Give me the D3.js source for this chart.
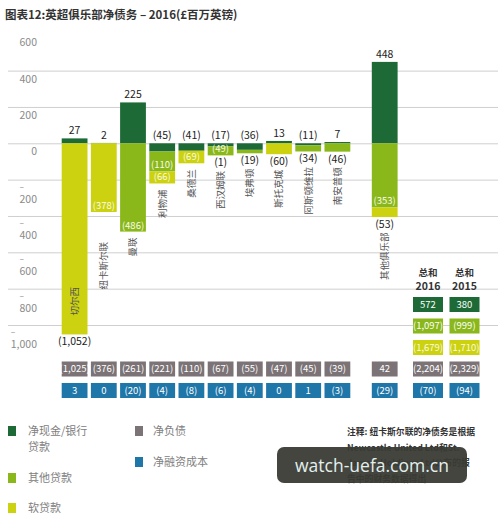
<!DOCTYPE html>
<html><head><meta charset="utf-8">
<script src="https://cdn.jsdelivr.net/npm/d3@7"></script>
<style>
html,body{margin:0;padding:0;background:#fff;}
svg{display:block;font-family:'Noto Sans CJK SC','Noto Sans',sans-serif;}
</style></head>
<body><svg id="c" width="503" height="519"></svg>
<script>
// ---- data ----
const clubs = ["切尔西","纽卡斯尔联","曼联","利物浦","桑德兰","西汉姆联","埃弗顿","斯托克城","阿斯顿维拉","南安普顿","其他俱乐部"];
const netCash      = [27, 2, 225, -45, -41, -17, -36, 13, -11, 7, 448];
const otherLoans   = [0, 0, -486, -110, 0, -49, -19, 0, -34, -46, -353];
const softLoans    = [-1052, -378, 0, -66, -69, -1, 0, -60, 0, 0, -53];
const netDebt      = [-1025, -376, -261, -221, -110, -67, -55, -47, -45, -39, 42];
const financeCost  = [3, 0, -20, -4, -8, -6, -4, 0, 1, -3, -29];
const totalYears   = ["2016", "2015"];
const totalCash    = [572, 380];
const totalOther   = [-1097, -999];
const totalSoft    = [-1679, -1710];
const totalNetDebt = [-2204, -2329];
const totalFinance = [-70, -94];
const yLabelTicks  = [600, 400, 200, 0, -200, -400, -600, -800, -1000];
const gridTicks    = [400, 200, 0, -200, -400, -600, -800, -1000];
const legendItems  = [["净现金/银行","贷款"],["其他贷款"],["软贷款"],["净负债"],["净融资成本"]];
const title = "图表12:英超俱乐部净债务 – 2016(£百万英镑)";
const noteLines = ["注释: 纽卡斯尔联的净债务是根据","Newcastle United Ltd和St.","James' Holdings Ltd公布的报","告中的财务数据得出"];

// ---- styles ----
const C = {cash:"#1d6a36", other:"#8ab81b", soft:"#ccd20f", net:"#7b7376", fin:"#1f76a8"};
const svg = d3.select("#c");
const fmt = v => v < 0 ? "(" + d3.format(",")(-v) + ")" : d3.format(",")(v);

// ---- scales ----
const y = d3.scaleLinear().domain([0, -1000]).range([143.3, 325]);
const slot = d3.scaleLinear().domain([0, 1]).range([61.7, 90.9]);
const bw = 25.8;
const xLeft = i => slot(i < 10 ? i : i + 0.62);
const tx = d3.scaleBand().domain(totalYears).range([413, 479.5]).paddingInner(0.178);
const rows = d3.scaleBand().domain(["cash","other","soft","net","fin"]).range([297, 398]).paddingInner(0.302);

// title
svg.append("text").attr("x", 5).attr("y", 19).attr("font-size", 11.5).attr("font-weight", 700)
  .attr("fill", "#333").text(title);

// gridlines via axis
const grid = svg.append("g").attr("transform", "translate(8,0)")
  .call(d3.axisRight(y).tickValues(gridTicks).tickSize(490).tickFormat(""));
grid.select(".domain").remove();
grid.selectAll("line").attr("stroke", "#cfcfcf");

// y labels
yLabelTicks.forEach(v => {
  const t = svg.append("text").attr("x", 37).attr("text-anchor", "end")
    .attr("font-size", 10.5).attr("fill", "#8a8a8a")
    .attr("y", y(v) + (v < 0 ? 23 : 12)).text(d3.format(",")(Math.abs(v)));
  if (v < 0) {
    const w = t.node().getComputedTextLength();
    svg.append("text").attr("x", 37 - w).attr("y", y(v) + 10).attr("font-size", 8.5)
      .attr("fill", "#8a8a8a").text("–");
  }
});

// bars
const barG = svg.append("g");
clubs.forEach((club, i) => {
  const x0 = xLeft(i), cx = x0 + bw / 2;
  const c = netCash[i], o = otherLoans[i], s = softLoans[i];
  const segs = [];
  let base = 0;
  segs.push({k:"cash", a:0, b:c, v:c});
  if (c < 0) base = c;
  if (o < 0) { segs.push({k:"other", a:base, b:base + o, v:o}); base += o; }
  if (s < 0) { segs.push({k:"soft", a:base, b:base + s, v:s}); base += s; }
  segs.forEach(sg => {
    barG.append("rect").attr("x", x0).attr("width", bw)
      .attr("y", y(Math.max(sg.a, sg.b))).attr("height", Math.abs(y(sg.a) - y(sg.b)))
      .attr("fill", C[sg.k]);
  });
  // cash label
  const lblY = c >= 0 ? y(c) - 4 : y(0) - 4;
  barG.append("text").attr("x", cx).attr("y", lblY).attr("text-anchor", "middle")
    .attr("font-size", 10.5).attr("fill", "#222").text(fmt(c));
  // other / soft labels
  const bottom = y(base);
  let belowBaseline = null;
  segs.filter(sg => sg.k !== "cash").forEach(sg => {
    const h = Math.abs(y(sg.a) - y(sg.b));
    const thr = sg.k === "other" ? 8.5 : 11.5;
    const inside = h >= thr && i !== 0;
    if (inside) {
      barG.append("text").attr("x", cx).attr("y", y(sg.b) - 3).attr("text-anchor", "middle")
        .attr("font-size", 9.5).attr("fill", "#fbfbe8").text(fmt(sg.v));
    } else {
      belowBaseline = bottom + 11;
      barG.append("text").attr("x", cx).attr("y", belowBaseline).attr("text-anchor", "middle")
        .attr("font-size", 10.5).attr("fill", "#222").text(fmt(sg.v));
    }
  });
  // club name (rotated)
  let anchor = "end", ny;
  if (i === 0) { anchor = "start"; ny = bottom - 19; }
  else if (i === 1) { ny = bottom + 30; }
  else { ny = belowBaseline !== null ? belowBaseline + 4.5 : bottom + 6; }
  barG.append("text").attr("transform", `translate(${cx},${ny}) rotate(-90)`)
    .attr("text-anchor", anchor).attr("dy", "0.36em").attr("font-size", 9.5)
    .attr("fill", "#555").text(club);
  // bottom boxes
  [["net", netDebt[i]], ["fin", financeCost[i]]].forEach(([k, v]) => {
    barG.append("rect").attr("x", x0).attr("y", rows(k)).attr("width", bw).attr("height", rows.bandwidth())
      .attr("fill", C[k]);
    barG.append("text").attr("x", cx).attr("y", rows(k) + rows.bandwidth() / 2).attr("dy", "0.36em")
      .attr("text-anchor", "middle").attr("font-size", 9.5).attr("fill", "#fff").text(fmt(v));
  });
});

// totals
totalYears.forEach((yr, j) => {
  const x0 = tx(yr), cx = x0 + tx.bandwidth() / 2;
  svg.append("text").attr("x", cx).attr("y", 276).attr("text-anchor", "middle")
    .attr("font-size", 9.5).attr("font-weight", 700).attr("fill", "#333").text("总和");
  svg.append("text").attr("x", cx).attr("y", 289.5).attr("text-anchor", "middle")
    .attr("font-size", 10.5).attr("font-weight", 700).attr("fill", "#333").text(yr);
  [["cash", totalCash[j]], ["other", totalOther[j]], ["soft", totalSoft[j]], ["net", totalNetDebt[j]], ["fin", totalFinance[j]]]
    .forEach(([k, v]) => {
      svg.append("rect").attr("x", x0).attr("y", rows(k)).attr("width", tx.bandwidth()).attr("height", rows.bandwidth())
        .attr("fill", C[k]);
      svg.append("text").attr("x", cx).attr("y", rows(k) + rows.bandwidth() / 2).attr("dy", "0.36em")
        .attr("text-anchor", "middle").attr("font-size", 9.5).attr("fill", k === "soft" ? "#fbfbe0" : "#fff").text(fmt(v));
    });
});

// legend
const legPos = [{x:8, y:426, k:"cash"}, {x:8, y:473, k:"other"}, {x:8, y:503, k:"soft"}, {x:135, y:426, k:"net"}, {x:135, y:457, k:"fin"}];
legendItems.forEach((lines, i) => {
  const p = legPos[i];
  svg.append("rect").attr("x", p.x).attr("y", p.y).attr("width", 8).attr("height", 10).attr("fill", C[p.k]);
  lines.forEach((ln, li) => {
    svg.append("text").attr("x", p.x + (p.x < 50 ? 20 : 18)).attr("y", p.y + 9 + li * 15.5)
      .attr("font-size", 11).attr("fill", "#808080").text(ln);
  });
});

// note
noteLines.forEach((ln, i) => {
  svg.append("text").attr("x", 347).attr("y", 435 + i * 15.5).attr("font-size", 8.8)
    .attr("font-weight", 700).attr("fill", "#333").text(ln);
});

// watermark overlay
svg.append("rect").attr("x", 277).attr("y", 447).attr("width", 190).attr("height", 36).attr("rx", 7)
  .attr("fill", "#393b34").attr("opacity", 0.95);
svg.append("text").attr("x", 372).attr("y", 471.5).attr("text-anchor", "middle").attr("font-size", 17.5)
  .attr("font-family", "'Open Sans',sans-serif").attr("fill", "#e4f0ee").text("watch-uefa.com.cn");
</script></body></html>
